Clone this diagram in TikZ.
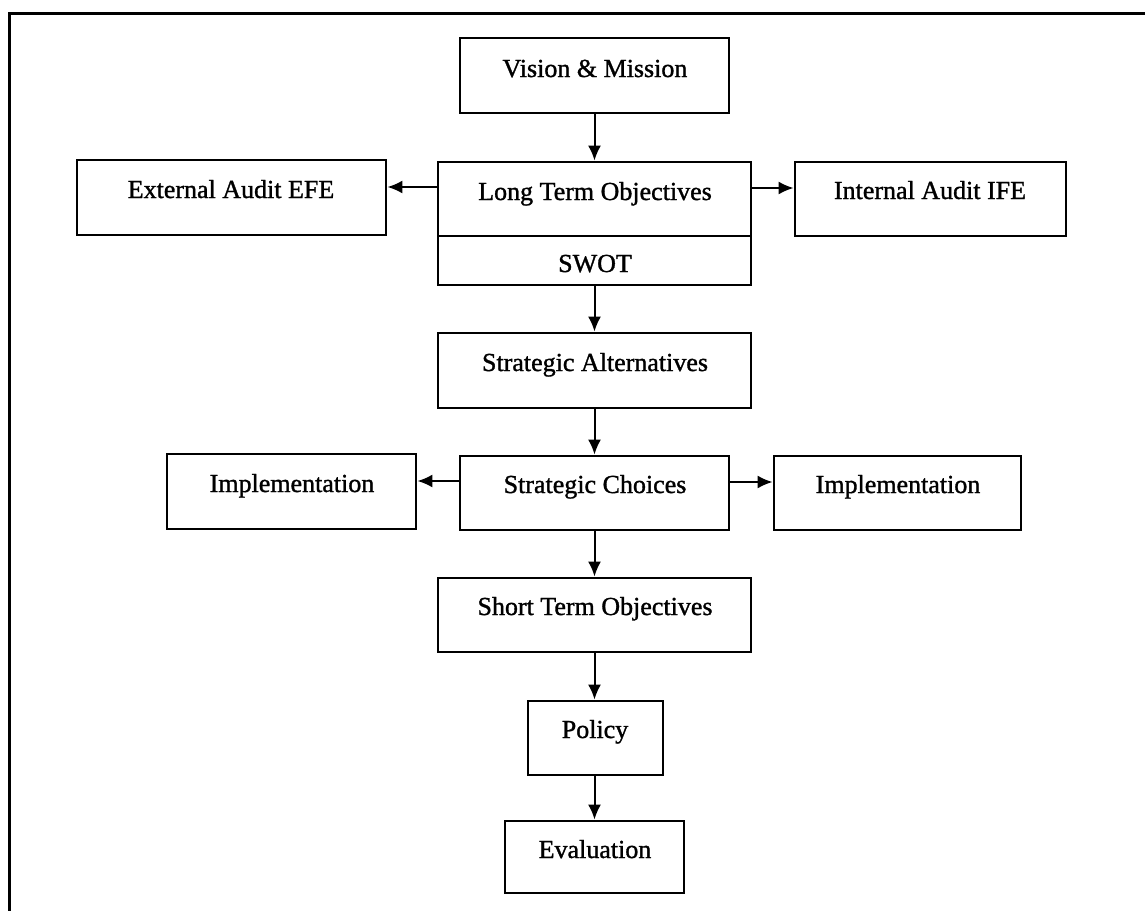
\documentclass[tikz,border=0pt]{standalone}
\usepackage{fontspec}
\setmainfont{Liberation Serif}[FakeBold=1.2]
\newfontfamily\boxfont{Liberation Serif}[FakeBold=1.2]
\usetikzlibrary{arrows.meta}
\begin{document}
\begin{tikzpicture}[x=1pt,y=-1pt,
  box/.style={draw=black,line width=2.8pt,rectangle,inner sep=0pt},
  lbl/.style={anchor=base,inner sep=0pt,font=\boxfont\fontsize{26}{30}\selectfont},
  flow/.style={line width=2pt,-{Latex[length=15pt,width=13pt]}}]
\useasboundingbox (0,0) rectangle (1145,910);
% page frame, open at the right and bottom edges
\draw[line width=3pt] (9,912) -- (9,13) -- (1147,13);

% boxes (centres and sizes in page units)
\node[box,minimum width=269pt,minimum height=75pt] (vm) at (594.5,75.5) {};
\node[box,minimum width=313pt,minimum height=123pt] (lto) at (594.5,223.5) {};
\coordinate (swl) at (438,236);
\coordinate (swr) at (751,236);
\node[box,minimum width=309pt,minimum height=75pt] (efe) at (231.5,197.5) {};
\node[box,minimum width=271pt,minimum height=74pt] (ife) at (930.5,199) {};
\node[box,minimum width=313pt,minimum height=75pt] (sa) at (594.5,370.5) {};
\node[box,minimum width=269pt,minimum height=74pt] (sc) at (594.5,493) {};
\node[box,minimum width=249pt,minimum height=75pt] (iml) at (291.5,491.5) {};
\node[box,minimum width=247pt,minimum height=74pt] (imr) at (897.5,493) {};
\node[box,minimum width=313pt,minimum height=74pt] (st) at (594.5,615) {};
\node[box,minimum width=135pt,minimum height=74pt] (po) at (595.5,738) {};
\node[box,minimum width=179pt,minimum height=72pt] (ev) at (594.5,857) {};

% divider between objectives and SWOT
\draw[line width=2.8pt] (swl) -- (swr);

% texts
\node[lbl] (tvm) at (595,77) {Vision \& Mission};
\node[lbl] (tlto) at (595,200) {Long Term Objectives};
\node[lbl] (tsw) at (595,272) {SWOT};
\node[lbl] (tefe) at (231,198) {External Audit EFE};
\node[lbl] (tife) at (930,199) {Internal Audit IFE};
\node[lbl] (tsa) at (595,371) {Strategic Alternatives};
\node[lbl] (tsc) at (595,493) {Strategic Choices};
\node[lbl] (timl) at (292,492) {Implementation};
\node[lbl] (timr) at (898,493) {Implementation};
\node[lbl] (tst) at (595,615) {Short Term Objectives};
\node[lbl] (tpo) at (595,738) {Policy};
\node[lbl] (tev) at (595,858) {Evaluation};

% connectors
\draw[flow] (vm.south) -- (lto.north);
\draw[flow] (lto.west |- 0,187) -- (efe.east |- 0,187);
\draw[flow] (lto.east |- 0,188) -- (ife.west |- 0,188);
\draw[flow] (lto.south) -- (sa.north);
\draw[flow] (sa.south) -- (sc.north);
\draw[flow] (sc.west |- 0,481) -- (iml.east |- 0,481);
\draw[flow] (sc.east |- 0,482) -- (imr.west |- 0,482);
\draw[flow] (sc.south) -- (st.north);
\draw[flow] (st.south) -- (st.south |- po.north);
\draw[flow] (po.south -| st.south) -- (ev.north);
\end{tikzpicture}
\end{document}
